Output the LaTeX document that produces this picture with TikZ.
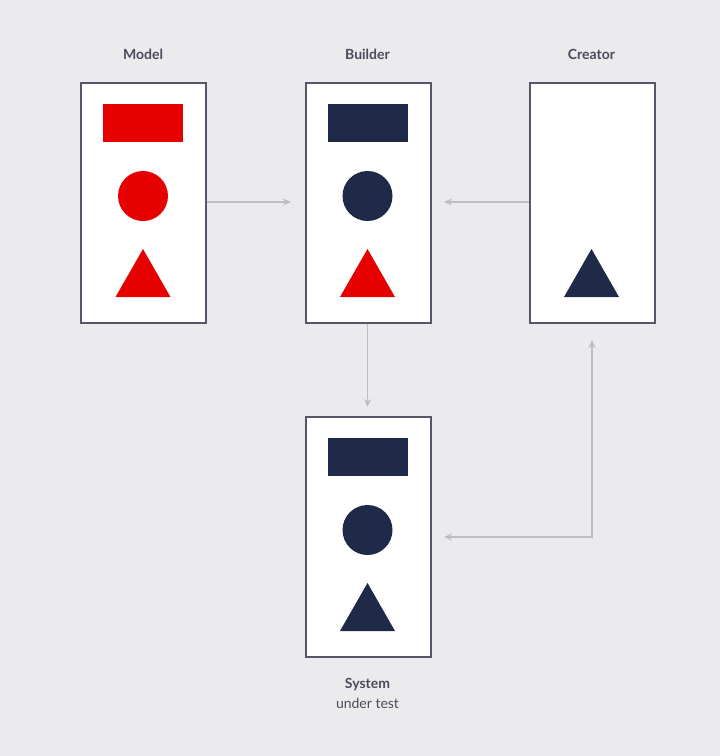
\documentclass[tikz,border=0pt]{standalone}
\usepackage{fontspec}
\setmainfont{Lato}
\usetikzlibrary{arrows.meta}
\definecolor{bg}{HTML}{EBEBEE}
\definecolor{rd}{HTML}{E60000}
\definecolor{nv}{HTML}{1F2A48}
\definecolor{bd}{HTML}{55566A}
\definecolor{ar}{HTML}{BDBDC2}
\definecolor{tx}{HTML}{4A4B5C}
\tikzset{panel/.style={draw=bd,fill=white,line width=1.6pt},
conn/.style={draw=ar,line width=1.3pt,-{Stealth[length=8pt,width=7pt]}},
lbl/.style={text=tx,font=\bfseries\fontsize{14}{16}\selectfont},
sub/.style={text=tx,font=\fontsize{14}{16}\selectfont}}
\newcommand{\shapesat}[4]{%
\fill[#2] (#1-40,#4+22) rectangle (#1+40,#4+60);
\fill[#3] (#1,#4+114) circle (25);
}
\newcommand{\triat}[3]{\fill[#2] (#1,#3+167) -- (#1+27.5,#3+215) -- (#1-27.5,#3+215) -- cycle;}
\begin{document}
\begin{tikzpicture}[x=1pt,y=-1pt]
\fill[bg] (0,0) rectangle (720,756);
\useasboundingbox (0,0) rectangle (720,756);
\node[panel,minimum width=125,minimum height=240,inner sep=0,anchor=north west] (model) at (80,82) {};
\node[panel,minimum width=125,minimum height=240,inner sep=0,anchor=north west] (builder) at (305,82) {};
\node[panel,minimum width=125,minimum height=240,inner sep=0,anchor=north west] (creator) at (529,82) {};
\node[panel,minimum width=125,minimum height=240,inner sep=0,anchor=north west] (system) at (305,416) {};
\shapesat{143}{rd}{rd}{82}\triat{143}{rd}{82}
\shapesat{367.5}{nv}{nv}{82}\triat{367.5}{rd}{82}
\triat{591.5}{nv}{82}
\shapesat{367.5}{nv}{nv}{416}\triat{367.5}{nv}{416}
\node[lbl] (lm) at (143,54) {Model};
\node[lbl] (lb) at (367.5,54) {Builder};
\node[lbl] (lc) at (591.5,54) {Creator};
\node[lbl] (ls) at (367.5,685) {System};
\node[sub] (lu) at (367.5,703) {under test};
\coordinate (b1) at (291,202);
\coordinate (b2) at (444,202);
\coordinate (s1) at (367.5,407);
\coordinate (c1) at (592,340);
\coordinate (s2) at (444,537);
\coordinate (k) at (592,537);
\draw[conn] (model.east |- b1) -- (b1);
\draw[conn] (creator.west |- b2) -- (b2);
\draw[conn] (builder.south -| s1) -- (s1);
\draw[conn,{Stealth[length=8pt,width=7pt]}-{Stealth[length=8pt,width=7pt]}] (c1) -- (k) -- (s2);
\end{tikzpicture}
\end{document}
